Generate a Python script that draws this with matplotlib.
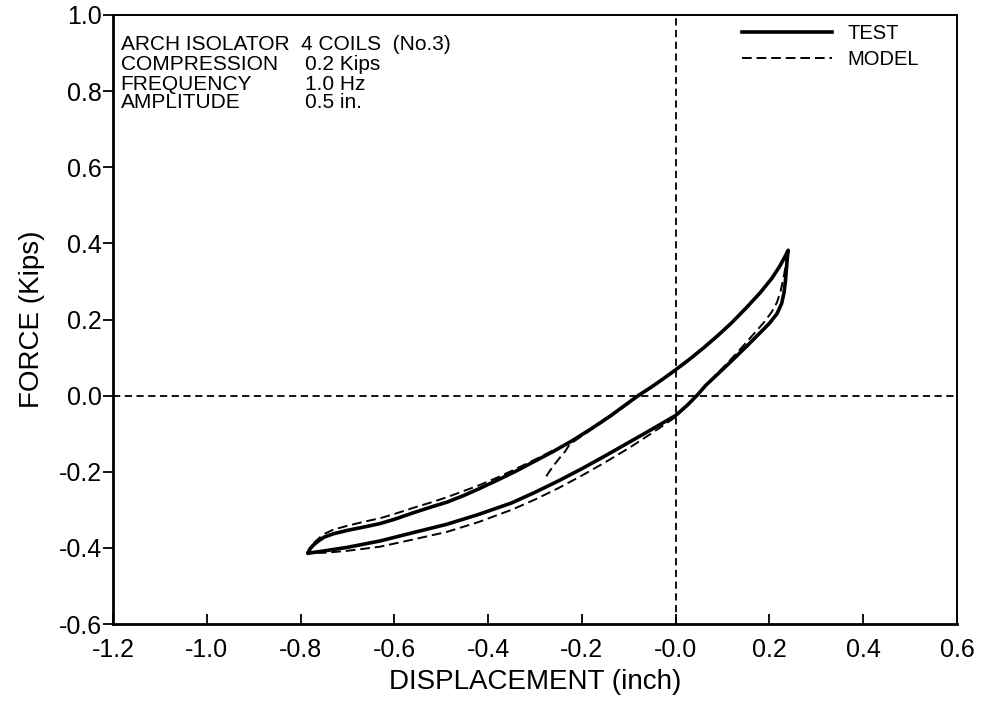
import matplotlib
matplotlib.use("Agg")
import matplotlib.pyplot as plt

# test loop (solid): upper branch left->right, then lower branch back to the left tip
test_x = [-0.7835, -0.780, -0.773, -0.762, -0.750, -0.730, -0.700, -0.660, -0.630, -0.600,
          -0.560, -0.520, -0.488, -0.453, -0.420, -0.380, -0.340, -0.300, -0.260, -0.220,
          -0.180, -0.140, -0.110, -0.080, -0.050, -0.020, 0.000, 0.030, 0.060, 0.090,
          0.120, 0.150, 0.180, 0.205, 0.222, 0.233, 0.240,
          0.238, 0.236, 0.234, 0.231, 0.226, 0.216, 0.200, 0.180, 0.150, 0.120, 0.090,
          0.065, 0.045, 0.025, 0.000, -0.050, -0.100, -0.150, -0.200, -0.250, -0.300,
          -0.350, -0.420, -0.488, -0.560, -0.631, -0.702, -0.750, -0.7835]
test_y = [-0.412, -0.403, -0.393, -0.382, -0.372, -0.363, -0.354, -0.344, -0.336, -0.325,
          -0.308, -0.292, -0.280, -0.263, -0.245, -0.222, -0.198, -0.172, -0.146, -0.118,
          -0.087, -0.054, -0.027, 0.000, 0.024, 0.050, 0.068, 0.096, 0.126, 0.158,
          0.192, 0.230, 0.270, 0.308, 0.340, 0.365, 0.382,
          0.360, 0.330, 0.300, 0.270, 0.242, 0.215, 0.190, 0.165, 0.128, 0.092, 0.057,
          0.028, 0.000, -0.025, -0.052, -0.088, -0.123, -0.158, -0.192, -0.224, -0.254,
          -0.282, -0.312, -0.338, -0.360, -0.382, -0.399, -0.408, -0.414]

# model loop (dashed): short start-up hook near x=-0.27, then one full cycle
model_x = [-0.276, -0.268, -0.258, -0.247, -0.236, -0.226, -0.180, -0.140, -0.080, -0.020,
           0.030, 0.090, 0.150, 0.205, 0.233, 0.240,
           0.236, 0.230, 0.224, 0.216, 0.205, 0.188, 0.165, 0.140, 0.110, 0.080, 0.050,
           0.025, 0.000, -0.050, -0.100, -0.150, -0.200, -0.250, -0.300, -0.350, -0.420,
           -0.488, -0.524, -0.560, -0.631, -0.702, -0.750, -0.7835,
           -0.780, -0.770, -0.752, -0.730, -0.700, -0.667, -0.630, -0.600, -0.560, -0.520,
           -0.488, -0.453, -0.420, -0.380, -0.340, -0.300, -0.260]
model_y = [-0.212, -0.197, -0.180, -0.163, -0.147, -0.128, -0.089, -0.056, -0.002, 0.048,
           0.094, 0.156, 0.228, 0.306, 0.362, 0.378,
           0.350, 0.310, 0.275, 0.245, 0.220, 0.192, 0.160, 0.125, 0.085, 0.047, 0.008,
           -0.025, -0.056, -0.098, -0.138, -0.175, -0.210, -0.243, -0.273, -0.300, -0.332,
           -0.358, -0.368, -0.378, -0.397, -0.408, -0.413, -0.413,
           -0.400, -0.385, -0.365, -0.352, -0.342, -0.332, -0.322, -0.311, -0.295, -0.280,
           -0.267, -0.251, -0.236, -0.215, -0.192, -0.168, -0.143]

x_ticks = [-1.2, -1.0, -0.8, -0.6, -0.4, -0.2, 0.0, 0.2, 0.4, 0.6]
x_labels = ["-1.2", "-1.0", "-0.8", "-0.6", "-0.4", "-0.2", "-0.0", "0.2", "0.4", "0.6"]
y_ticks = [1.0, 0.8, 0.6, 0.4, 0.2, 0.0, -0.2, -0.4, -0.6]
y_labels = ["1.0", "0.8", "0.6", "0.4", "0.2", "0.0", "-0.2", "-0.4", "-0.6"]

info_names = ["ARCH ISOLATOR  4 COILS  (No.3)", "COMPRESSION", "FREQUENCY", "AMPLITUDE"]
info_values = ["", "0.2 Kips", "1.0 Hz", "0.5 in."]

plt.rcParams["font.family"] = ["Liberation Sans", "DejaVu Sans"]
plt.rcParams["axes.unicode_minus"] = False

fig = plt.figure(figsize=(9.84, 7.04), dpi=100)
ax = fig.add_axes([113 / 984, 1 - 624 / 704, (957 - 113) / 984, (624 - 15) / 704])

ax.axhline(0, color="black", lw=1.3, ls=(0, (4, 2.5)), zorder=1)
ax.axvline(0, color="black", lw=1.3, ls=(0, (4, 2.5)), zorder=1)

ax.plot(test_x, test_y, color="black", lw=2.6, solid_joinstyle="round", label="TEST", zorder=3)
ax.plot(model_x, model_y, color="black", lw=1.4, ls=(0, (5, 2.5)), label="MODEL", zorder=2)

ax.set_xlim(-1.2, 0.6)
ax.set_ylim(-0.6, 1.0)
ax.set_xticks(x_ticks)
ax.set_xticklabels(x_labels)
ax.set_yticks(y_ticks)
ax.set_yticklabels(y_labels)
ax.tick_params(axis="x", direction="in", length=7, width=1.3, labelsize=18, pad=10)
ax.tick_params(axis="y", direction="out", length=7, width=1.3, labelsize=18, pad=1)

ax.set_xlabel("DISPLACEMENT (inch)", fontsize=20, labelpad=5)
ax.set_ylabel("FORCE (Kips)", fontsize=20, labelpad=10)

for side in ["left", "bottom"]:
    ax.spines[side].set_linewidth(2)
for side in ["top", "right"]:
    ax.spines[side].set_linewidth(1.4)

# baselines of the four info lines, in axes fraction
line_pos = [0.9425, 0.9097, 0.8768, 0.8473]
for i in range(len(info_names)):
    ax.text(0.009, line_pos[i], info_names[i], transform=ax.transAxes,
            fontsize=15, va="baseline", ha="left")
    ax.text(0.2275, line_pos[i], info_values[i], transform=ax.transAxes,
            fontsize=15, va="baseline", ha="left")

ax.legend(loc="upper left", bbox_to_anchor=(0.745, 0.985), frameon=False, fontsize=14.5,
          handlelength=4.5, handletextpad=0.75, labelspacing=0.35,
          borderpad=0, borderaxespad=0)

fig.savefig("out.png", dpi=100)
